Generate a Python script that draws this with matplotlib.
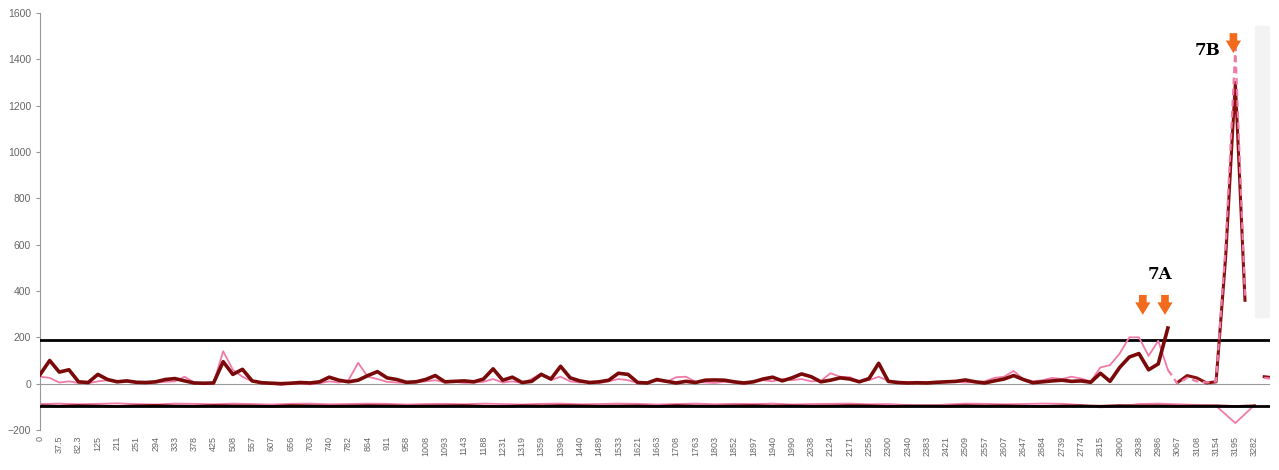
import numpy as np
import matplotlib
matplotlib.use("Agg")
import matplotlib.pyplot as plt

plt.rcParams['font.family'] = ['Liberation Sans', 'DejaVu Sans']

# category labels along the x axis
labels = ['0', '37.5', '82.3', '125', '211', '251', '294', '333', '378', '425',
          '508', '557', '607', '656', '703', '740', '782', '864', '911', '958',
          '1008', '1093', '1143', '1188', '1231', '1319', '1359', '1396', '1440',
          '1489', '1533', '1621', '1663', '1708', '1763', '1803', '1852', '1897',
          '1940', '1990', '2038', '2124', '2171', '2256', '2300', '2340', '2383',
          '2421', '2509', '2557', '2607', '2647', '2684', '2739', '2774', '2815',
          '2900', '2938', '2986', '3067', '3108', '3154', '3195', '3282']

# main series, sampled every half category step
dark = [39, 100, 50, 60, 8, 5, 40, 18, 8, 12,
        6, 5, 8, 18, 22, 12, 3, 2, 3, 95,
        40, 62, 12, 4, 2, 0, 2, 5, 3, 8,
        28, 15, 8, 15, 35, 52, 25, 18, 6, 8,
        18, 35, 8, 10, 12, 8, 20, 64, 15, 28,
        5, 10, 40, 20, 75, 25, 12, 5, 8, 15,
        45, 40, 5, 3, 18, 10, 3, 10, 5, 15,
        16, 15, 8, 3, 8, 20, 28, 12, 25, 42,
        30, 8, 15, 25, 20, 8, 22, 88, 10, 5,
        3, 4, 3, 6, 8, 10, 16, 8, 3, 12,
        20, 35, 18, 4, 8, 12, 15, 10, 12, 6,
        45, 10, 70, 115, 130, 60, 85, 240, 5, 35,
        25, 3, 8, 550, 1300, 360, np.nan, 30, 25]

pink = [30, 25, 5, 10, 3, 2, 10, 15, 10, 8,
        5, 3, 5, 8, 10, 30, 5, 0, 2, 140,
        60, 30, 10, 5, 0, -5, 0, 2, -3, 2,
        10, 5, 15, 90, 30, 20, 8, 5, 3, 5,
        10, 15, 5, 8, 3, 5, 8, 20, 5, 10,
        3, 20, 45, 15, 30, 10, 5, 8, 3, 10,
        20, 15, 3, 5, 12, 8, 28, 30, 8, 5,
        3, 8, 5, 0, 10, 15, 10, 20, 15, 20,
        10, 12, 45, 30, 28, 10, 15, 30, 12, 8,
        5, 3, 6, 4, 10, 8, 5, 6, 10, 25,
        30, 55, 20, 10, 15, 25, 20, 30, 22, 10,
        70, 80, 130, 200, 200, 120, 185, 60, 0, 25,
        10, 5, 10, 600, 1450, 380, np.nan, 25, 20]

# lower band series, one value per category
low_dark = [-95, -97, -94, -96, -98, -95, -93, -96, -97, -94,
            -95, -96, -98, -94, -95, -97, -96, -94, -95, -97,
            -96, -95, -94, -97, -98, -95, -96, -94, -95, -97,
            -96, -95, -98, -94, -96, -97, -95, -94, -96, -95,
            -97, -96, -94, -95, -98, -96, -95, -97, -94, -96,
            -95, -97, -98, -96, -95, -97, -94, -96, -95, -97,
            -96, -95, -98, -95]
low_pink = [-88, -86, -89, -87, -85, -88, -90, -86, -87, -89,
            -86, -88, -90, -87, -86, -89, -88, -86, -87, -90,
            -88, -87, -89, -86, -88, -90, -87, -86, -89, -88,
            -86, -87, -90, -88, -86, -89, -87, -88, -86, -90,
            -88, -87, -86, -89, -88, -92, -96, -90, -86, -87,
            -89, -88, -86, -87, -92, -102, -98, -88, -86, -89,
            -92, -96, -170, -92]

upper_limit = 190
lower_limit = -98

x_half = np.arange(len(dark)) * 0.5
x_cat = np.arange(len(low_dark))
dark = np.array(dark, dtype=float)
pink = np.array(pink, dtype=float)

fig = plt.figure(figsize=(12.79, 4.70), dpi=100)
ax = fig.add_axes([0.0313, 0.0851, 0.9617, 0.8872])

# scan artefact on the right edge
ax.axvspan(63.0, 64.5, ymin=0.27, ymax=0.97, color='#f3f3f3', zorder=0)

ax.axhline(0, color='#9a9a9a', lw=0.8, zorder=1)
ax.plot(x_cat, low_pink, color='#f07aa8', lw=1.3, zorder=2)
ax.plot(x_cat, low_dark, color='#8a1010', lw=1.8, zorder=2)
ax.axhline(upper_limit, color='black', lw=2.0, zorder=3)
ax.axhline(lower_limit, color='black', lw=2.0, zorder=3)

cut = 117
ax.plot(x_half[:cut + 1], pink[:cut + 1], color='#f07aa8', lw=1.3, zorder=4)
ax.plot(x_half[:cut + 1], dark[:cut + 1], color='#7a0a0a', lw=2.6, zorder=5)
ax.plot(x_half[cut + 1:], dark[cut + 1:], color='#8a1010', lw=2.2, zorder=5)
ax.plot(x_half[cut:], pink[cut:], color='#f07aa8', lw=1.6,
        linestyle=(0, (3, 2)), zorder=6)

# annotations
ax.text(58.1, 470, '7A', fontsize=12, fontweight='bold', family='DejaVu Serif',
        ha='center', va='center', color='black')
ax.text(60.55, 1440, '7B', fontsize=12, fontweight='bold', family='DejaVu Serif',
        ha='center', va='center', color='black')
arrow = dict(arrowstyle='simple,head_width=1.1,head_length=0.9,tail_width=0.55',
             color='#f26a1b', lw=0)
for ax_x, top, tip in [(57.2, 395, 285), (58.35, 395, 285), (61.9, 1525, 1415)]:
    ax.annotate('', xy=(ax_x, tip), xytext=(ax_x, top), arrowprops=arrow, zorder=7)

ax.set_xlim(0, 63.8)
ax.set_ylim(-200, 1600)
ax.set_yticks(np.arange(-200, 1601, 200))
ax.set_xticks(x_cat)
ax.set_xticklabels(labels, rotation=90, fontsize=6.5, color='#666666')
ax.tick_params(axis='y', labelsize=7.5, labelcolor='#666666', color='#999999',
               length=3, direction='out')
ax.tick_params(axis='x', length=0, pad=4)
for side in ['top', 'right', 'bottom']:
    ax.spines[side].set_visible(False)
ax.spines['left'].set_color('#999999')

fig.savefig('out.png', dpi=100)
